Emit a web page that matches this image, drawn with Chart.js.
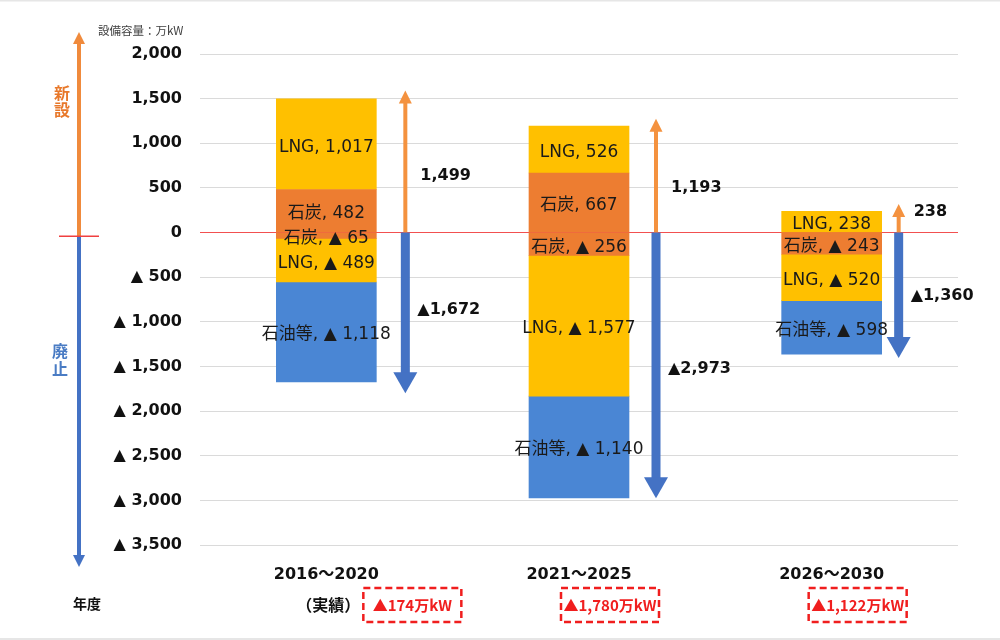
<!DOCTYPE html>
<html><head><meta charset="utf-8">
<script src="https://cdn.jsdelivr.net/npm/chart.js@4"></script>
<style>html,body{margin:0;padding:0;background:#fff}#wrap{width:1000px;height:640px;position:relative}</style>
</head><body><div id="wrap"><canvas id="c" width="1000" height="640"></canvas></div>
<script>
// ---- data ----
const categories = ['2016～2020', '2021～2025', '2026～2030'];
const subNotes = ['（実績）', '', ''];
const netChange = ['▲174万kW', '▲1,780万kW', '▲1,122万kW'];
const seriesNames = ['石炭', 'LNG', '石炭', 'LNG', '石油等'];
const coalNew = [482, 667, 0];
const lngNew = [1017, 526, 238];
const coalRetired = [-65, -256, -243];
const lngRetired = [-489, -1577, -520];
const oilRetired = [-1118, -1140, -598];
const newTotals = [1499, 1193, 238];
const retiredTotals = [-1672, -2973, -1360];
const upArrowTips = [1590, 1275, 320];
const downArrowTips = [-1800, -2975, -1405];
const yMin = -3500, yMax = 2000, yStep = 500;

// ---- helpers ----
const fmt = n => Math.abs(n).toLocaleString('en-US');
const fmtVal = v => v < 0 ? '▲ ' + fmt(v) : fmt(v);
const LATIN = "'DejaVu Sans', 'Noto Sans CJK JP', sans-serif";
const CJK = "'Noto Sans CJK JP', 'DejaVu Sans', sans-serif";
const C_COAL = '#ED7D31', C_LNG = '#FFC000', C_OIL = '#4A86D4';
const C_UP = '#F4923F', C_DOWN = '#4472C4';

const arrowOffsets = [79, 77, 67];
const boxOffsets = [86, 31, 26];

const tri = (ctx, pts) => { ctx.beginPath(); ctx.moveTo(pts[0][0], pts[0][1]); ctx.lineTo(pts[1][0], pts[1][1]); ctx.lineTo(pts[2][0], pts[2][1]); ctx.closePath(); ctx.fill(); };

const bgPlugin = {
  id: 'bg',
  beforeDraw(chart) {
    const ctx = chart.ctx;
    ctx.save();
    ctx.fillStyle = '#fff'; ctx.fillRect(0, 0, chart.width, chart.height);
    ctx.fillStyle = '#E6E6E6'; ctx.fillRect(0, 0, chart.width, 1.5); ctx.fillRect(0, chart.height - 2, chart.width, 2);
    ctx.restore();
  }
};

const labelPlugin = {
  id: 'segLabels',
  afterDatasetsDraw(chart) {
    const ctx = chart.ctx;
    ctx.save();
    ctx.font = '17px ' + LATIN;
    ctx.fillStyle = '#1a1a1a';
    ctx.textAlign = 'center'; ctx.textBaseline = 'middle';
    chart.data.datasets.forEach((ds, di) => {
      const meta = chart.getDatasetMeta(di);
      meta.data.forEach((el, i) => {
        const v = ds.data[i];
        if (!v) return;
        const cy = (el.y + el.base) / 2;
        ctx.fillText(ds.label + ', ' + fmtVal(v), el.x, cy + 3);
      });
    });
    ctx.restore();
  }
};

const arrowPlugin = {
  id: 'arrows',
  afterDatasetsDraw(chart) {
    const ctx = chart.ctx, xs = chart.scales.x, ys = chart.scales.y;
    const y0 = ys.getPixelForValue(0);
    ctx.save();
    categories.forEach((c, i) => {
      const x = xs.getPixelForValue(i) + arrowOffsets[i];
      // up arrow
      const yt = ys.getPixelForValue(upArrowTips[i]);
      ctx.fillStyle = C_UP;
      ctx.fillRect(x - 2, yt + 12, 4, y0 - (yt + 12));
      tri(ctx, [[x, yt], [x - 6.5, yt + 13], [x + 6.5, yt + 13]]);
      // down arrow
      const yb = ys.getPixelForValue(downArrowTips[i]);
      ctx.fillStyle = C_DOWN;
      ctx.fillRect(x - 4.5, y0, 9, yb - 20 - y0);
      tri(ctx, [[x - 12, yb - 21], [x + 12, yb - 21], [x, yb]]);
      // labels
      ctx.fillStyle = '#111';
      ctx.font = 'bold 16px ' + LATIN;
      ctx.textAlign = 'left'; ctx.textBaseline = 'middle';
      const upAt = newTotals[i] < 400 ? newTotals[i] : newTotals[i] * 0.43;
      ctx.fillText(fmt(newTotals[i]), x + 15, ys.getPixelForValue(upAt) + 1);
      ctx.fillText('▲' + fmt(retiredTotals[i]), x + 12, ys.getPixelForValue(retiredTotals[i] * 0.51) + 1);
    });
    ctx.restore();
  }
};

const decorPlugin = {
  id: 'decor',
  afterDraw(chart) {
    const ctx = chart.ctx, xs = chart.scales.x;
    ctx.save();
    // unit label
    ctx.font = '11.5px ' + CJK; ctx.fillStyle = '#404040';
    ctx.textAlign = 'left'; ctx.textBaseline = 'middle';
    ctx.fillText('設備容量：万kW', 98, 31);
    // left arrows
    ctx.fillStyle = '#F08A3C';
    ctx.fillRect(77, 42, 4, 236 - 42);
    tri(ctx, [[79, 32], [73, 44], [85, 44]]);
    ctx.fillStyle = C_DOWN;
    ctx.fillRect(77, 236, 4, 556 - 236);
    tri(ctx, [[73, 555], [85, 555], [79, 567]]);
    ctx.fillStyle = '#F04040';
    ctx.fillRect(59, 235.5, 40, 1.5);
    // vertical words
    ctx.font = 'bold 16px ' + CJK; ctx.textAlign = 'center';
    ctx.fillStyle = '#E8782A';
    ctx.fillText('新', 62, 93); ctx.fillText('設', 62, 110);
    ctx.fillStyle = '#4A7CC4';
    ctx.fillText('廃', 60, 351); ctx.fillText('止', 60, 369);
    // 年度
    ctx.fillStyle = '#111'; ctx.font = 'bold 14px ' + CJK;
    ctx.fillText('年度', 87, 604);
    // notes and boxes
    categories.forEach((c, i) => {
      const cx = xs.getPixelForValue(i);
      if (subNotes[i]) {
        ctx.fillStyle = '#111'; ctx.font = 'bold 16px ' + CJK; ctx.textAlign = 'center';
        ctx.fillText(subNotes[i], cx + 2, 605);
      }
      const bx = cx + boxOffsets[i];
      ctx.strokeStyle = '#F01E1E'; ctx.lineWidth = 2.5; ctx.setLineDash([7, 4]);
      ctx.strokeRect(bx - 49, 588, 98, 34);
      ctx.setLineDash([]);
      ctx.fillStyle = '#F01E1E'; ctx.font = 'bold 15px ' + CJK; ctx.textAlign = 'center';
      ctx.fillText(netChange[i], bx, 605);
    });
    ctx.restore();
  }
};

const ds = (label, data, color) => ({ label, data, backgroundColor: color, borderWidth: 0, barThickness: 100 });

new Chart(document.getElementById('c'), {
  type: 'bar',
  data: {
    labels: categories,
    datasets: [
      ds(seriesNames[0], coalNew, C_COAL),
      ds(seriesNames[1], lngNew, C_LNG),
      ds(seriesNames[2], coalRetired, C_COAL),
      ds(seriesNames[3], lngRetired, C_LNG),
      ds(seriesNames[4], oilRetired, C_OIL)
    ]
  },
  options: {
    responsive: false, animation: false, devicePixelRatio: 1,
    layout: { padding: { left: 0, top: 54, right: 42, bottom: 0 } },
    plugins: { legend: { display: false }, tooltip: { enabled: false } },
    scales: {
      x: {
        stacked: true,
        grid: { display: false, drawTicks: false },
        border: { display: false },
        ticks: { font: { family: LATIN, size: 16, weight: 'bold' }, color: '#111', padding: 20 },
        afterFit: s => { s.height = 95; }
      },
      y: {
        stacked: true, min: yMin, max: yMax,
        ticks: {
          stepSize: yStep, padding: 18, color: '#111',
          font: { family: LATIN, size: 16, weight: 'bold' },
          callback: v => v < 0 ? '▲ ' + fmt(v) : fmt(v)
        },
        grid: { color: c => c.tick && c.tick.value === 0 ? '#F25050' : '#DADADA', lineWidth: 1, drawTicks: false },
        border: { display: false },
        afterFit: s => { s.width = 200; }
      }
    }
  },
  plugins: [bgPlugin, labelPlugin, arrowPlugin, decorPlugin]
});
</script>
</body></html>
